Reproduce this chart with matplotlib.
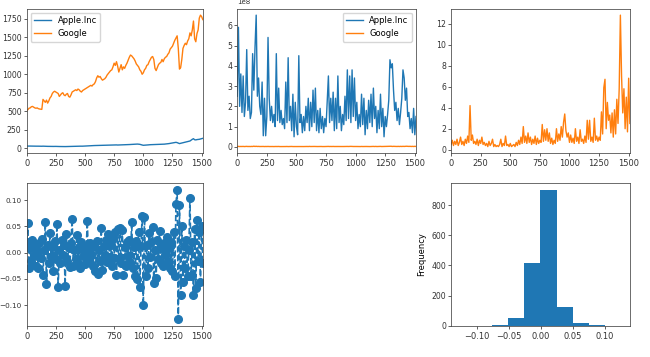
import numpy as np
import matplotlib
matplotlib.use("Agg")
import matplotlib.pyplot as plt

# sampled every 10 trading days
step = 10

google_price = [510, 520, 540, 545, 560, 565, 555, 545, 540, 545, 535, 530, 528, 525, 660, 640, 620, 650, 610, 640,
                680, 700, 740, 760, 770, 760, 750, 740, 700, 720, 740, 750, 720, 710, 730, 740, 700, 690, 720, 760,
                770, 780, 790, 780, 800, 790, 770, 760, 780, 790, 800, 810, 820, 830, 840, 850, 840, 860, 870, 900,
                950, 980, 960, 970, 940, 920, 930, 940, 960, 990, 1010, 1030, 1050, 1060, 1100, 1150, 1120, 1170, 1110, 1030,
                1080, 1130, 1060, 1100, 1080, 1120, 1150, 1190, 1230, 1260, 1250, 1230, 1210, 1180, 1140, 1120, 1100, 1060, 1040, 1000,
                1020, 1060, 1080, 1120, 1130, 1170, 1200, 1230, 1240, 1200, 1080, 1050, 1090, 1130, 1150, 1160, 1200, 1170, 1210, 1230,
                1240, 1270, 1290, 1340, 1360, 1380, 1420, 1460, 1490, 1520, 1350, 1070, 1090, 1200, 1350, 1390, 1420, 1400, 1450, 1480,
                1560, 1520, 1600, 1720, 1480, 1440, 1550, 1600, 1760, 1800, 1780, 1740]

apple_price = [28, 28.5, 29, 28.5, 28, 28, 27.5, 27, 27, 27.5, 27, 26.5, 26, 26, 27, 26, 25, 25.5, 24.5, 24,
               24.5, 24, 23, 23.5, 24, 24, 23, 23.5, 22.5, 22, 22.5, 22, 22, 21.5, 22, 22.5, 23, 22.5, 23, 23.5,
               24, 24, 24.5, 25, 26, 27, 27, 26.5, 27, 28, 28.5, 29, 30, 31, 32, 33, 34, 35, 35.5, 36,
               37, 37.5, 38, 37.5, 38, 38.5, 39, 39, 39.5, 40, 40.5, 41, 42, 42.5, 43, 43.5, 43, 44, 42.5, 43,
               44, 43.5, 44, 45, 46, 47, 47.5, 48, 49, 50, 51, 52, 53, 54, 55, 55.5, 54, 52, 47, 43,
               39, 40, 41, 42.5, 44, 46, 47, 47.5, 48, 47, 48, 49, 49.5, 50, 51, 51.5, 52, 53, 54.5, 56,
               57, 59, 62, 65, 68, 70, 73, 77, 79, 75, 69, 62, 66, 70, 74, 79, 83, 87, 90, 93,
               97, 108, 120, 128, 114, 112, 116, 118, 120, 124, 128, 133]

# trading volume, units of 1e8 shares
apple_volume = [2.5, 5.9, 2.0, 3.6, 1.7, 3.5, 1.5, 2.2, 4.8, 1.8, 2.5, 1.4, 1.7, 4.6, 2.8, 4.9, 6.5, 2.5, 3.4, 2.0,
                1.6, 3.2, 0.55, 2.4, 0.55, 1.5, 5.4, 2.4, 1.3, 2.0, 1.2, 1.6, 1.0, 4.6, 1.3, 2.9, 1.2, 1.8, 1.1, 1.4,
                0.9, 3.2, 1.2, 4.4, 1.3, 2.0, 0.8, 2.6, 0.5, 2.2, 1.0, 0.6, 4.5, 1.2, 1.6, 0.7, 1.5, 0.8, 2.0, 1.2,
                2.4, 0.8, 2.2, 1.0, 2.8, 1.2, 2.9, 0.8, 1.8, 0.7, 1.9, 0.9, 1.5, 0.7, 1.4, 1.0, 2.2, 3.5, 1.2, 2.4,
                1.3, 2.7, 0.8, 2.4, 0.9, 3.5, 1.2, 2.0, 0.8, 1.6, 1.1, 2.5, 1.3, 3.8, 1.4, 3.5, 1.2, 3.8, 1.5, 3.4,
                1.3, 2.2, 0.9, 1.6, 1.0, 2.6, 1.1, 2.4, 0.6, 1.8, 0.9, 2.3, 1.2, 2.6, 1.0, 2.9, 1.4, 2.0, 0.7, 1.8,
                0.9, 2.6, 1.0, 1.9, 0.5, 1.5, 1.0, 1.6, 2.3, 4.3, 3.9, 4.1, 2.8, 1.8, 2.2, 1.3, 1.9, 1.1, 1.7, 2.4,
                3.8, 3.4, 2.3, 2.9, 1.5, 1.7, 0.9, 1.4, 0.7, 1.9, 0.6, 1.5]

google_volume = [0.02, 0.025, 0.018, 0.022, 0.02, 0.024, 0.017, 0.021, 0.026, 0.019, 0.022, 0.018, 0.024, 0.02, 0.035, 0.022, 0.03, 0.021, 0.025, 0.019,
                 0.02, 0.018, 0.022, 0.017, 0.021, 0.019, 0.023, 0.018, 0.02, 0.017, 0.019, 0.016, 0.02, 0.017, 0.019, 0.022, 0.016, 0.018, 0.016, 0.017,
                 0.016, 0.018, 0.021, 0.016, 0.019, 0.017, 0.022, 0.017, 0.018, 0.016, 0.019, 0.016, 0.017, 0.018, 0.016, 0.019, 0.017, 0.02, 0.018, 0.021,
                 0.018, 0.024, 0.019, 0.021, 0.018, 0.022, 0.019, 0.021, 0.018, 0.02, 0.018, 0.021, 0.017, 0.02, 0.018, 0.02, 0.019, 0.024, 0.019, 0.022,
                 0.019, 0.023, 0.019, 0.021, 0.018, 0.02, 0.017, 0.019, 0.018, 0.022, 0.019, 0.021, 0.019, 0.023, 0.02, 0.024, 0.026, 0.022, 0.02, 0.021,
                 0.018, 0.02, 0.018, 0.02, 0.017, 0.022, 0.018, 0.02, 0.017, 0.021, 0.018, 0.019, 0.017, 0.02, 0.018, 0.024, 0.019, 0.024, 0.018, 0.02,
                 0.018, 0.025, 0.019, 0.02, 0.018, 0.02, 0.019, 0.027, 0.021, 0.03, 0.032, 0.022, 0.028, 0.024, 0.025, 0.021, 0.026, 0.02, 0.027, 0.021,
                 0.028, 0.023, 0.03, 0.033, 0.029, 0.024, 0.028, 0.021, 0.027, 0.02, 0.029, 0.022]

# right panel series
google_ratio = [0.5, 0.9, 0.4, 0.8, 0.5, 1.0, 0.4, 0.7, 1.2, 0.5, 0.8, 0.4, 1.0, 0.6, 1.3, 0.7, 4.2, 0.9, 1.4, 0.6,
                0.8, 0.5, 1.0, 0.4, 0.9, 0.6, 1.2, 0.5, 0.7, 0.4, 0.6, 0.3, 0.8, 0.4, 0.6, 1.0, 0.3, 0.5, 0.3, 0.4,
                0.3, 0.5, 1.0, 0.3, 0.6, 0.4, 1.3, 0.4, 0.5, 0.3, 0.6, 0.3, 0.4, 0.5, 0.3, 0.7, 0.4, 0.9, 0.5, 1.2,
                0.6, 2.2, 0.7, 1.3, 0.6, 1.6, 0.7, 1.2, 0.5, 1.0, 0.6, 1.3, 0.5, 1.1, 0.6, 0.9, 0.7, 2.4, 0.8, 1.9,
                0.9, 2.0, 0.8, 1.6, 0.6, 1.1, 0.5, 0.9, 0.6, 2.0, 0.8, 1.5, 0.9, 2.2, 1.2, 2.6, 3.4, 1.8, 1.2, 1.6,
                0.7, 1.4, 0.7, 1.1, 0.6, 2.0, 0.8, 1.2, 0.6, 1.9, 0.8, 1.0, 0.6, 1.3, 0.7, 2.8, 1.0, 2.8, 0.8, 1.2,
                0.7, 3.0, 0.9, 1.3, 0.8, 1.2, 0.9, 3.6, 1.5, 5.9, 6.7, 2.0, 4.5, 2.8, 3.3, 1.6, 3.5, 1.2, 3.8, 1.5,
                4.8, 2.5, 5.8, 12.8, 7.0, 3.5, 5.8, 2.0, 5.0, 1.7, 6.8, 2.5]

returns = [0.02, 0.057, -0.03, 0.008, -0.015, 0.025, -0.005, 0.012, -0.025, 0.004, -0.03, 0.018, -0.01, 0.027, -0.042, 0.006, 0.058, -0.06, 0.015, -0.02,
           0.038, -0.008, 0.01, -0.035, 0.022, -0.012, 0.055, -0.066, 0.005, -0.02, 0.025, -0.004, 0.014, -0.063, 0.036, -0.015, 0.008, -0.028, 0.018, 0.065,
           -0.025, 0.006, -0.012, 0.034, -0.02, 0.01, -0.03, 0.02, -0.006, 0.012, -0.022, 0.003, 0.061, -0.015, 0.018, -0.005, 0.01, -0.025, 0.015, -0.035,
           0.022, -0.04, 0.006, -0.015, 0.047, -0.033, 0.012, -0.004, 0.025, -0.018, 0.035, -0.008, 0.015, -0.025, 0.028, -0.01, 0.04, -0.043, 0.045, -0.012,
           0.047, -0.02, 0.043, -0.042, 0.01, -0.025, 0.02, -0.006, 0.025, -0.018, 0.058, -0.03, 0.01, -0.045, 0.022, -0.05, 0.04, -0.066, 0.012, 0.07,
           -0.1, 0.068, -0.045, 0.015, -0.03, 0.038, -0.008, 0.02, 0.049, -0.058, 0.006, -0.048, 0.025, -0.012, 0.042, -0.02, 0.01, -0.025, 0.018, -0.005,
           0.03, -0.015, 0.008, -0.03, 0.02, -0.035, 0.04, -0.045, 0.093, 0.12, -0.127, 0.09, -0.08, 0.05, -0.055, 0.012, -0.03, 0.025, -0.045, 0.005,
           0.105, -0.045, 0.02, -0.08, 0.045, -0.068, 0.063, -0.015, 0.04, -0.055, 0.05, -0.02]

# histogram of daily returns (10 bins)
hist_edges = [-0.127, -0.1017, -0.0764, -0.0511, -0.0258, -0.0005, 0.0248, 0.0501, 0.0754, 0.1007, 0.126]
hist_counts = [2, 2, 8, 52, 415, 900, 125, 18, 3, 2]

plt.rcParams.update({
    "font.size": 6.0,
    "lines.linewidth": 1.0,
    "axes.linewidth": 0.55,
    "axes.edgecolor": "#444444",
    "xtick.major.size": 2.2,
    "ytick.major.size": 2.2,
    "xtick.major.width": 0.55,
    "ytick.major.width": 0.55,
    "xtick.major.pad": 2.0,
    "ytick.major.pad": 1.5,
    "ytick.labelsize": 5.6,
    "xtick.color": "#333333",
    "ytick.color": "#333333",
    "legend.fontsize": 6.0,
})

fig = plt.figure(figsize=(6.5, 3.57), dpi=100)
cols = [(0.041, 0.271), (0.365, 0.275), (0.694, 0.275)]
rows = [(0.571, 0.405), (0.087, 0.400)]

def ax_at(r, c):
    l, w = cols[c]
    b, h = rows[r]
    return fig.add_axes([l, b, w, h])

def xs(v):
    return np.arange(len(v)) * step

C0, C1 = "#1f77b4", "#ff7f0e"

ax1 = ax_at(0, 0)
ax1.plot(xs(apple_price), apple_price, color=C0, label="Apple.Inc")
ax1.plot(xs(google_price), google_price, color=C1, label="Google")
ax1.set_xlim(0, xs(google_price)[-1])
ax1.legend(loc="upper left")

ax2 = ax_at(0, 1)
ax2.plot(xs(apple_volume), np.array(apple_volume) * 1e8, color=C0, label="Apple.Inc")
ax2.plot(xs(google_volume), np.array(google_volume) * 1e8, color=C1, label="Google")
ax2.set_xlim(0, xs(apple_volume)[-1])
ax2.legend(loc="upper right")
ax2.yaxis.get_offset_text().set_fontsize(5.0)

ax3 = ax_at(0, 2)
ax3.plot(xs(google_ratio), google_ratio, color=C1)
ax3.set_xlim(0, xs(google_ratio)[-1])

ax4 = ax_at(1, 0)
ax4.plot(xs(returns), returns, "o--", color=C0, markersize=5.5, linewidth=1.2)
ax4.set_xlim(0, xs(returns)[-1])
ax4.tick_params(axis="y", labelsize=5.2, pad=1.2)

ax5 = ax_at(1, 2)
centers = [(hist_edges[i] + hist_edges[i + 1]) / 2 for i in range(len(hist_counts))]
ax5.hist(centers, bins=hist_edges, weights=hist_counts, color=C0)
ax5.set_ylabel("Frequency")

for ax in (ax1, ax2, ax3, ax4):
    ax.set_xticks([0, 250, 500, 750, 1000, 1250, 1500])

fig.savefig("out.png", dpi=100)
